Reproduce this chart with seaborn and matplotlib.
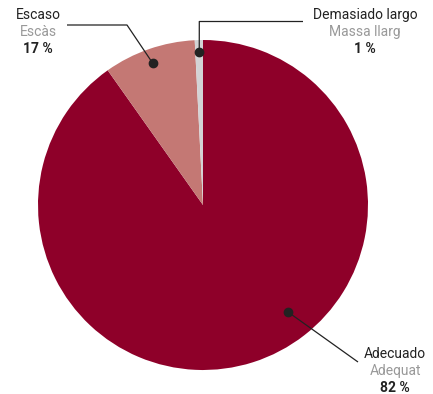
import numpy as np
import matplotlib
matplotlib.use("Agg")
import matplotlib.pyplot as plt
import seaborn as sns

categories_es = ["Adecuado", "Escaso", "Demasiado largo"]
categories_ca = ["Adequat", "Escàs", "Massa llarg"]
pct_labels = ["82 %", "17 %", "1 %"]
slice_values = [90.2, 9.0, 0.8]
colors = ["#8E0029", "#C47874", "#D3D3D5"]

sns.set_theme(style="white")
plt.rcParams['font.family'] = ['Roboto', 'DejaVu Sans']

W, H = 433, 394
fig = plt.figure(figsize=(W / 100, H / 100), dpi=100)
ax = fig.add_axes([0, 0, 1, 1])

cx, cy, R = 203, 205, 165  # pixel center/radius
def to_data(px, py):
    return ((px - cx) / R, (cy - py) / R)

wedges, _ = ax.pie(slice_values, colors=colors, startangle=90, counterclock=False,
                   radius=1, center=(0, 0), wedgeprops=dict(linewidth=0))
ax.set_xlim(-cx / R, (W - cx) / R)
ax.set_ylim((cy - H) / R, cy / R)
ax.set_aspect("auto")
ax.axis("off")

dark = "#222222"
grey = "#999999"

# annotation: (dot angle deg, dot radius, path points in px, text center px, ha)
ann = {
    "Escaso": dict(ang=109.5, r=0.91, path=[(127, 25), (67, 25)], tx=38, ty=15, ha="center"),
    "Demasiado largo": dict(ang=91.4, r=0.93, path=[(199.3, 21.5), (303, 21.5)], tx=365, ty=15, ha="center"),
    "Adecuado": dict(ang=-51.5, r=0.83, path=[(358, 362)], tx=395, ty=354, ha="center"),
}

for es, ca, pl in zip(categories_es, categories_ca, pct_labels):
    a = ann[es]
    th = np.deg2rad(a["ang"])
    dx, dy = a["r"] * np.cos(th), a["r"] * np.sin(th)
    pts = [(dx, dy)] + [to_data(*p) for p in a["path"]]
    xs, ys = zip(*pts)
    ax.plot(xs, ys, color=dark, lw=0.9, solid_capstyle="butt")
    ax.plot([dx], [dy], "o", color=dark, ms=6)
    tx, _ = to_data(a["tx"], 0)
    for i, (txt, col, wt) in enumerate([(es, dark, "normal"), (ca, grey, "normal"), (pl, dark, "bold")]):
        _, ty = to_data(0, a["ty"] + i * 17)
        ax.text(tx, ty, txt, color=col, fontsize=10, fontweight=wt, ha=a["ha"], va="center")

fig.savefig("out.png", dpi=100)
